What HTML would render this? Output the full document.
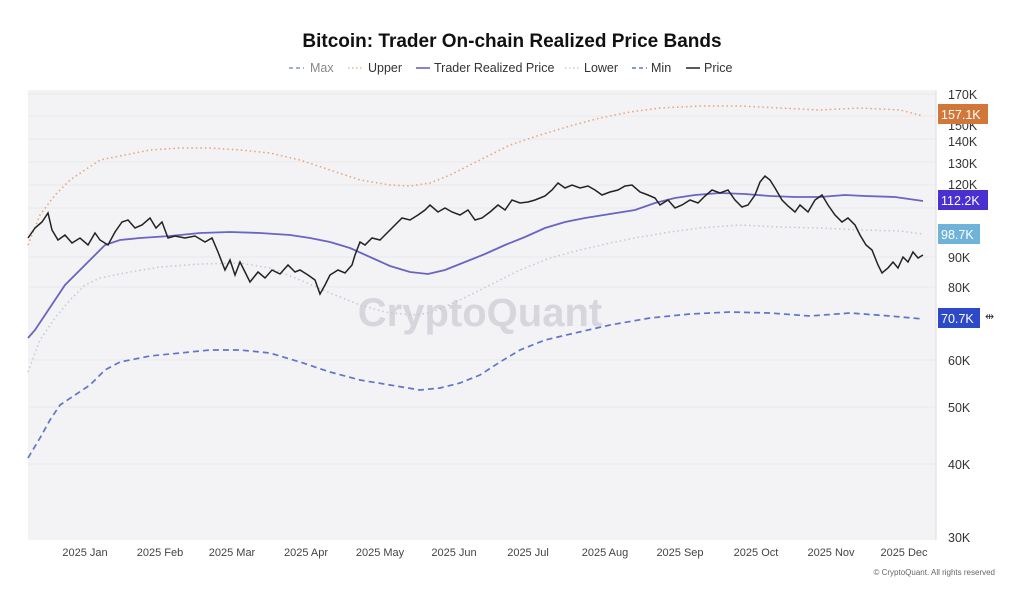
<!DOCTYPE html>
<html><head><meta charset="utf-8"><style>
html,body{margin:0;padding:0;background:#fff;}
body{width:1024px;height:589px;overflow:hidden;font-family:"Liberation Sans",sans-serif;}
</style></head><body>
<svg width="1024" height="589" xmlns="http://www.w3.org/2000/svg" font-family="Liberation Sans, sans-serif">
<rect width="1024" height="589" fill="#fff"/>
<text x="512" y="47" text-anchor="middle" font-size="19" font-weight="bold" fill="#111">Bitcoin: Trader On-chain Realized Price Bands</text>
<g font-size="12.5" fill="#333">
<line x1="289" y1="68" x2="304" y2="68" stroke="#8a94c8" stroke-width="1.5" stroke-dasharray="4,3"/>
<text x="310" y="72" fill="#888">Max</text>
<line x1="348" y1="68" x2="362" y2="68" stroke="#e9b58e" stroke-width="1.5" stroke-dasharray="1.5,2.5"/>
<text x="368" y="72">Upper</text>
<line x1="416" y1="68" x2="430" y2="68" stroke="#5f58c8" stroke-width="1.5"/>
<text x="434" y="72">Trader Realized Price</text>
<line x1="565" y1="68" x2="580" y2="68" stroke="#b8d3e3" stroke-width="1.5" stroke-dasharray="1.5,2.5"/>
<text x="584" y="72">Lower</text>
<line x1="632" y1="68" x2="647" y2="68" stroke="#5f76c8" stroke-width="1.5" stroke-dasharray="4,3"/>
<text x="651" y="72">Min</text>
<line x1="686" y1="68" x2="700" y2="68" stroke="#222" stroke-width="1.5"/>
<text x="704" y="72">Price</text>
</g>
<rect x="28" y="90" width="908" height="450" fill="#f3f3f5"/>
<g stroke="#e9e9ec" stroke-width="1">
<line x1="28" y1="94" x2="936" y2="94"/><line x1="28" y1="116" x2="936" y2="116"/><line x1="28" y1="139" x2="936" y2="139"/>
<line x1="28" y1="162" x2="936" y2="162"/><line x1="28" y1="185" x2="936" y2="185"/><line x1="28" y1="208" x2="936" y2="208"/>
<line x1="28" y1="257" x2="936" y2="257"/><line x1="28" y1="287" x2="936" y2="287"/><line x1="28" y1="360" x2="936" y2="360"/>
<line x1="28" y1="407" x2="936" y2="407"/><line x1="28" y1="464" x2="936" y2="464"/>
</g>
<line x1="936" y1="90" x2="936" y2="540" stroke="#ddd"/>
<text x="480" y="326" text-anchor="middle" font-size="40" font-weight="bold" fill="#d6d6dc">CryptoQuant</text>
<polyline fill="none" stroke="#e9a072" stroke-width="1.5" stroke-dasharray="1.5,3" points="28,245 40,215 55,195 70,180 85,170 100,160 120,156 150,150 180,148 210,148 240,150 270,153 300,160 330,170 360,180 390,185 410,186 430,183 450,175 480,160 510,145 540,135 570,126 600,118 630,112 660,108 700,106 740,106 780,108 820,110 860,108 900,110 923,116"/>
<polyline fill="none" stroke="#bccadb" stroke-width="1.5" stroke-dasharray="1.5,3" points="28,372 40,340 55,318 70,300 85,285 100,278 130,272 160,267 200,264 240,263 270,268 300,280 330,293 360,305 385,312 410,315 430,313 460,300 490,285 520,270 550,258 580,250 610,243 640,237 670,232 700,228 740,225 780,227 820,228 860,230 900,231 923,234"/>
<polyline fill="none" stroke="#5f76c8" stroke-width="1.7" stroke-dasharray="6,4" points="28,458 40,438 50,420 60,405 75,395 90,385 105,370 120,362 150,356 180,353 210,350 240,350 270,353 300,362 330,372 360,380 390,385 420,390 440,388 460,383 480,375 500,362 520,350 545,340 575,333 610,325 650,318 690,314 730,312 770,313 810,316 850,313 890,316 923,319"/>
<polyline fill="none" stroke="#6a64c2" stroke-width="1.8" points="28,338 35,330 45,315 55,300 65,285 75,275 85,265 95,255 105,245 120,240 140,238 170,236 200,233 230,232 260,233 290,235 310,238 330,242 350,248 370,257 390,266 410,272 428,274 445,270 465,262 485,254 505,245 525,237 545,228 565,222 585,218 610,214 635,210 655,203 675,198 695,195 720,193 745,194 770,196 795,197 820,197 845,195 865,196 895,197 923,201"/>
<polyline fill="none" stroke="#222" stroke-width="1.5" points="28,238 35,228 42,222 48,213 52,230 58,240 65,235 72,243 80,238 88,245 95,233 100,240 108,245 115,232 122,222 128,220 135,228 142,225 150,218 156,228 162,222 168,238 175,236 185,238 195,236 205,242 212,238 218,252 225,270 230,260 235,275 240,262 245,272 250,282 258,272 265,278 272,270 280,274 288,265 295,272 300,270 308,275 315,280 320,294 325,285 330,275 338,270 345,273 352,265 355,255 360,242 365,245 372,238 380,240 388,232 395,225 402,218 410,220 418,215 425,210 430,205 438,212 445,208 452,212 460,215 468,210 475,220 482,218 490,212 498,205 505,210 512,200 520,203 528,202 535,200 545,196 552,190 558,183 565,188 572,185 580,188 588,186 595,190 602,195 610,192 618,190 625,186 632,185 640,192 648,195 655,198 660,205 668,200 675,208 682,205 690,200 698,203 705,196 712,190 720,193 728,190 735,200 742,207 748,205 755,195 760,182 765,176 770,180 775,188 782,200 788,206 795,212 800,205 808,212 815,200 822,195 828,205 835,215 842,222 848,218 855,225 860,235 866,245 872,250 878,265 882,273 888,268 893,262 898,268 903,257 908,262 913,252 918,258 923,255"/>
<g font-size="12.5" fill="#333">
<text x="948" y="99">170K</text><text x="948" y="130">150K</text><text x="948" y="146">140K</text>
<text x="948" y="168">130K</text><text x="948" y="189">120K</text><text x="948" y="262">90K</text>
<text x="948" y="292">80K</text><text x="948" y="365">60K</text><text x="948" y="412">50K</text>
<text x="948" y="469">40K</text><text x="948" y="542">30K</text>
</g>
<rect x="938" y="104" width="50" height="20" fill="#d2773a"/><text x="941" y="119" font-size="12.5" fill="#fff">157.1K</text>
<rect x="938" y="190" width="50" height="20" fill="#4a2fd1"/><text x="941" y="205" font-size="12.5" fill="#fff">112.2K</text>
<rect x="938" y="224" width="42" height="20" fill="#6fb3d8"/><text x="941" y="239" font-size="12.5" fill="#fff">98.7K</text>
<rect x="938" y="308" width="42" height="20" fill="#2e49c8"/><text x="941" y="323" font-size="12.5" fill="#fff">70.7K</text>
<text x="985" y="320" font-size="11" fill="#333">⇹</text>
<g font-size="11" fill="#444" text-anchor="middle">
<text x="85" y="556">2025 Jan</text><text x="160" y="556">2025 Feb</text><text x="232" y="556">2025 Mar</text>
<text x="306" y="556">2025 Apr</text><text x="380" y="556">2025 May</text><text x="454" y="556">2025 Jun</text>
<text x="528" y="556">2025 Jul</text><text x="605" y="556">2025 Aug</text><text x="680" y="556">2025 Sep</text>
<text x="756" y="556">2025 Oct</text><text x="831" y="556">2025 Nov</text><text x="904" y="556">2025 Dec</text>
</g>
<text x="995" y="575" text-anchor="end" font-size="8" fill="#666">© CryptoQuant. All rights reserved</text>
</svg>
</body></html>
